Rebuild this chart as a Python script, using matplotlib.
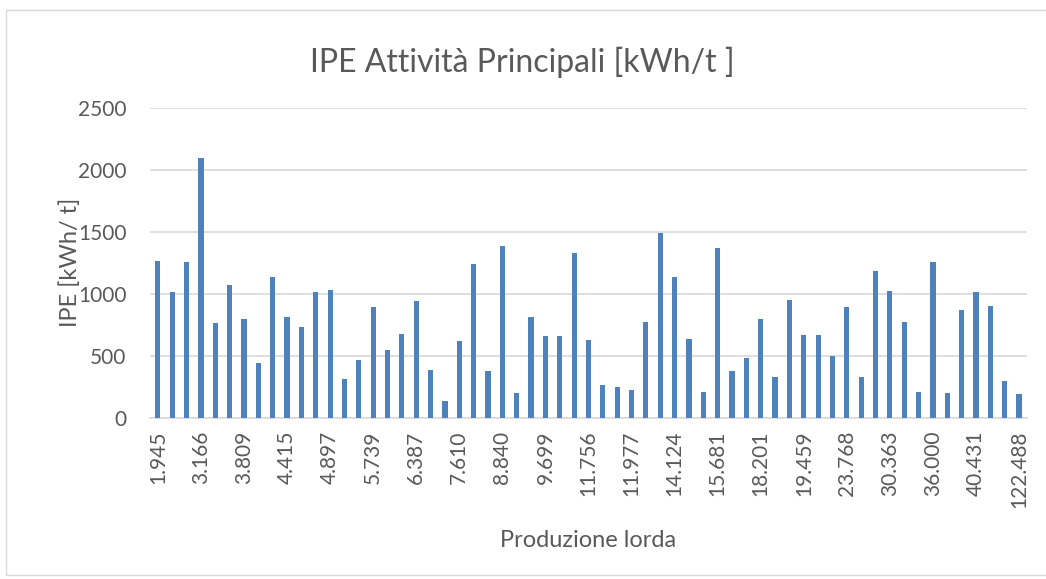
import numpy as np
from matplotlib import pyplot as plt
from matplotlib.patches import Rectangle

# valori IPE [kWh/t], 61 stabilimenti
ipe_values = [
    1263, 1018, 1255, 2100, 769, 1072, 799, 445, 1134, 815,
    737, 1020, 1031, 316, 467, 899, 548, 675, 942, 391,
    135, 621, 1242, 378, 1388, 200, 818, 664, 664, 1331,
    632, 270, 254, 229, 772, 1490, 1134, 634, 211, 1371,
    378, 486, 799, 329, 953, 667, 667, 499, 896, 327,
    1188, 1023, 772, 208, 1258, 200, 869, 1015, 904, 300,
    194,
]
# etichette visibili (una ogni tre barre)
tick_labels = [
    "1.945", "3.166", "3.809", "4.415", "4.897", "5.739", "6.387",
    "7.610", "8.840", "9.699", "11.756", "11.977", "14.124", "15.681",
    "18.201", "19.459", "23.768", "30.363", "36.000", "40.431", "122.488",
]
y_ticks = [0, 500, 1000, 1500, 2000, 2500]

plt.rcParams['font.family'] = ['Lato', 'DejaVu Sans']
text_color = '#595959'

fig = plt.figure(figsize=(10.46, 5.79), dpi=100)
ax = fig.add_axes([0.1434, 0.278, 0.8384, 0.5354])

x = np.arange(len(ipe_values))
ax.bar(x, ipe_values, width=0.36, color='#4F81BD', zorder=3)

ax.set_xlim(-0.55, len(ipe_values) - 0.45)
ax.set_ylim(0, 2500)
ax.set_yticks(y_ticks)
ax.set_xticks(x[::3])
ax.set_xticklabels(tick_labels, rotation=90)
ax.tick_params(axis='both', length=0, labelsize=15, colors=text_color)
ax.tick_params(axis='x', pad=9)
ax.tick_params(axis='y', pad=17)

ax.grid(axis='y', color='#D9D9D9', linewidth=1.2, zorder=0)
for side in ['top', 'right', 'left']:
    ax.spines[side].set_visible(False)
ax.spines['bottom'].set_color('#D9D9D9')
ax.spines['bottom'].set_linewidth(1.2)

# titoli degli assi e del grafico
fig.text(0.067, 0.546, "IPE [kWh/ t]", fontsize=17, color=text_color,
         rotation=90, ha='center', va='center')
fig.text(0.562, 0.066, "Produzione lorda", fontsize=17, color=text_color,
         ha='center', va='center')
fig.text(0.499, 0.893, "IPE Attività Principali [kWh/t ]", fontsize=23,
         color=text_color, ha='center', va='center')

# bordo dell'area del grafico
fig.patches.append(Rectangle((6 / 1046, 4 / 579), 1.0, 1 - 14 / 579,
                             transform=fig.transFigure, fill=False,
                             edgecolor='#D9D9D9', linewidth=1))

fig.savefig('out.png', dpi=100)
